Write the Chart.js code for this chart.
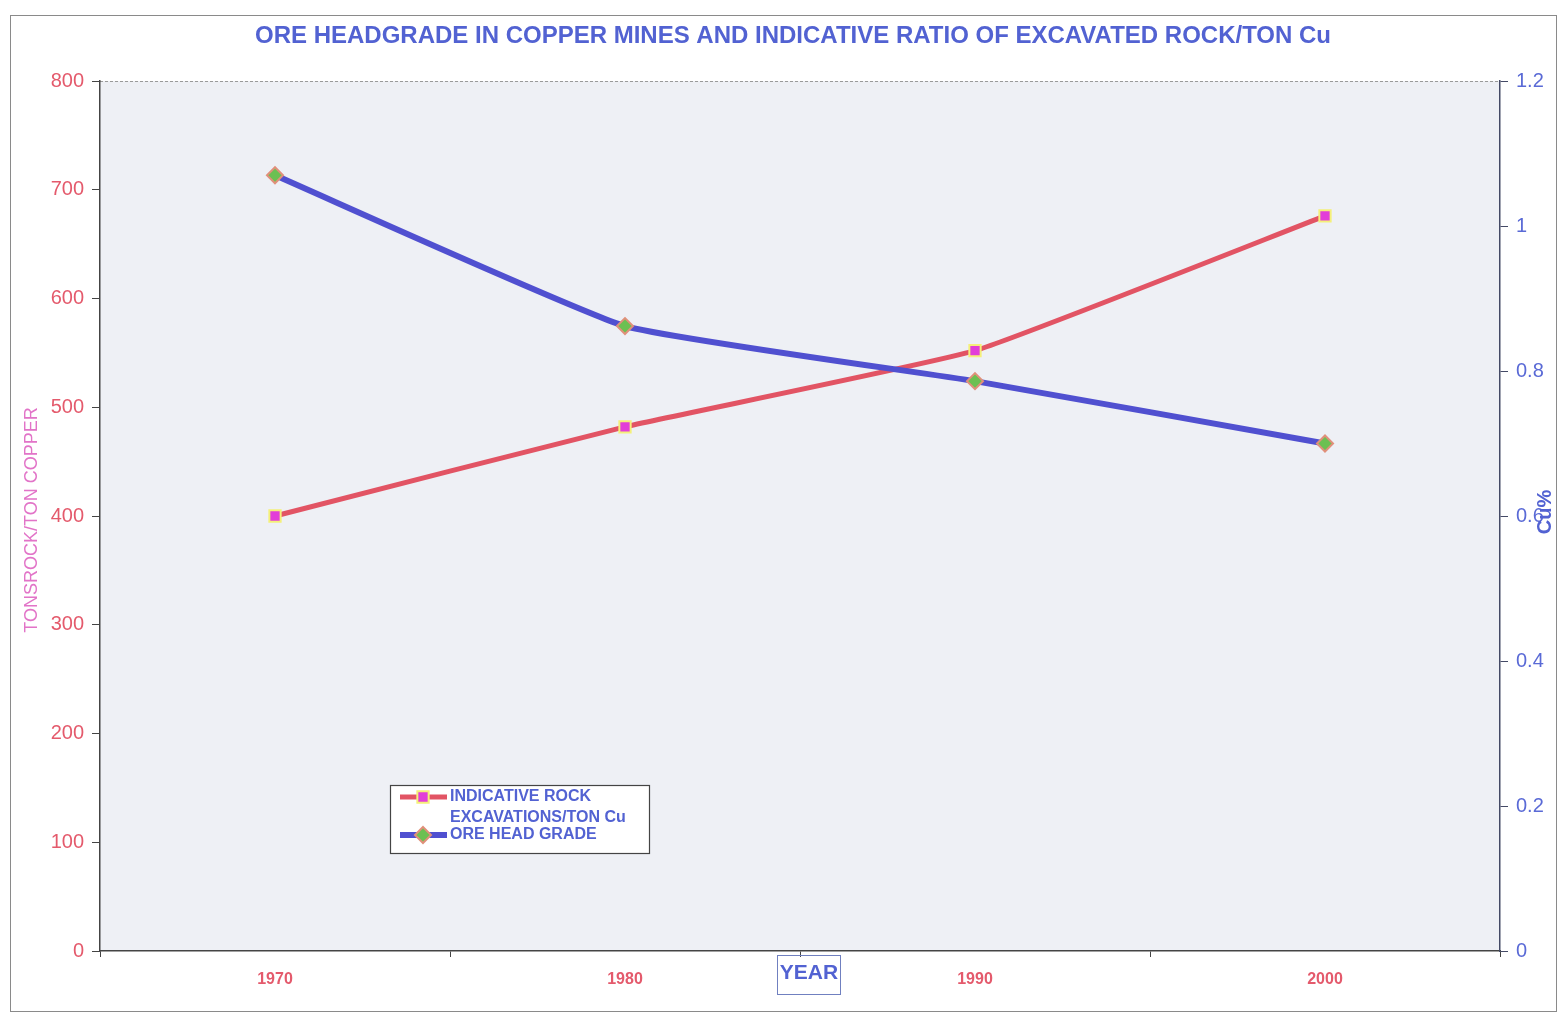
<!DOCTYPE html>
<html>
<head>
<meta charset="utf-8">
<title>Ore headgrade in copper mines</title>
<script src="https://cdn.jsdelivr.net/npm/chart.js@4"></script>
<style>
  html, body { margin: 0; padding: 0; background: #ffffff; }
  canvas { display: block; }
</style>
</head>
<body>
<canvas id="chart" width="1566" height="1016"></canvas>
<script>
// Years on the category axis
const years = ['1970', '1980', '1990', '2000'];
// Tons of rock excavated per ton of copper (left axis)
const rockPerTonCu = [400, 482, 552, 676];
// Ore head grade, Cu % (right axis)
const oreHeadGrade = [1.07, 0.862, 0.786, 0.70];

const chartTitle = 'ORE HEADGRADE IN COPPER MINES AND INDICATIVE RATIO OF EXCAVATED ROCK/TON Cu';
const leftTitle = 'TONSROCK/TON COPPER';
const rightTitle = 'Cu%';
const xTitle = 'YEAR';
const seriesLabels = [['INDICATIVE ROCK', 'EXCAVATIONS/TON Cu'], ['ORE HEAD GRADE']];

const FONT = '"Liberation Sans", Arial, sans-serif';
const BLUE_TEXT = '#5262d2';
const RED_TEXT = '#e45a6c';

// Page frame, plot background, title, axis titles and legend box
const decorations = {
  id: 'decorations',
  beforeDraw(chart) {
    const { ctx, chartArea: a } = chart;
    ctx.save();
    ctx.fillStyle = '#ffffff';
    ctx.fillRect(0, 0, chart.width, chart.height);
    ctx.strokeStyle = '#8a8a8a';
    ctx.lineWidth = 1;
    ctx.strokeRect(10.5, 15.5, 1546, 996);
    ctx.fillStyle = '#eef0f5';
    ctx.fillRect(a.left, a.top, a.right - a.left, a.bottom - a.top);
    ctx.setLineDash([3, 2]);
    ctx.strokeStyle = '#9a9a9a';
    ctx.beginPath();
    ctx.moveTo(a.left, a.top + 0.5);
    ctx.lineTo(a.right, a.top + 0.5);
    ctx.stroke();
    ctx.restore();
  },
  afterDraw(chart) {
    const { ctx } = chart;
    ctx.save();
    // main title
    ctx.fillStyle = BLUE_TEXT;
    ctx.font = 'bold 24px ' + FONT;
    ctx.textAlign = 'center';
    ctx.textBaseline = 'middle';
    ctx.fillText(chartTitle, 793, 36);

    // left axis title
    ctx.save();
    ctx.translate(32, 520);
    ctx.rotate(-Math.PI / 2);
    ctx.fillStyle = '#e274c8';
    ctx.font = '18px ' + FONT;
    ctx.fillText(leftTitle, 0, 0);
    ctx.restore();

    // right axis title
    ctx.save();
    ctx.translate(1545, 512);
    ctx.rotate(-Math.PI / 2);
    ctx.fillStyle = BLUE_TEXT;
    ctx.font = 'bold 20px ' + FONT;
    ctx.fillText(rightTitle, 0, 0);
    ctx.restore();

    // x axis title in a box
    ctx.font = 'bold 21px ' + FONT;
    ctx.fillStyle = BLUE_TEXT;
    ctx.fillText(xTitle, 809, 973);
    ctx.strokeStyle = '#7080c0';
    ctx.lineWidth = 1;
    ctx.strokeRect(777.5, 955.5, 63, 39);

    // legend
    const lx = 390, ly = 785, lw = 259, lh = 68;
    ctx.fillStyle = '#ffffff';
    ctx.fillRect(lx, ly, lw, lh);
    ctx.strokeStyle = '#444444';
    ctx.lineWidth = 1.2;
    ctx.strokeRect(lx + 0.5, ly + 0.5, lw, lh);
    const rows = [ly + 12, ly + 50];
    ctx.textAlign = 'left';
    ctx.font = 'bold 16px ' + FONT;
    chart.data.datasets.forEach((ds, i) => {
      const y = rows[i];
      ctx.strokeStyle = ds.borderColor;
      ctx.lineWidth = ds.borderWidth;
      ctx.beginPath();
      ctx.moveTo(lx + 10, y);
      ctx.lineTo(lx + 57, y);
      ctx.stroke();
      const cx = lx + 33;
      ctx.fillStyle = ds.pointBackgroundColor;
      ctx.strokeStyle = ds.pointBorderColor;
      ctx.lineWidth = ds.pointBorderWidth;
      ctx.beginPath();
      if (ds.pointStyle === 'rectRot') {
        const r = ds.pointRadius;
        ctx.moveTo(cx, y - r); ctx.lineTo(cx + r, y); ctx.lineTo(cx, y + r); ctx.lineTo(cx - r, y); ctx.closePath();
      } else {
        const r = ds.pointRadius * Math.SQRT1_2;
        ctx.rect(cx - r, y - r, 2 * r, 2 * r);
      }
      ctx.fill();
      ctx.stroke();
      ctx.fillStyle = BLUE_TEXT;
      seriesLabels[i].forEach((t, k) => ctx.fillText(t, lx + 60, y + k * 21));
    });
    ctx.restore();
  }
};

new Chart(document.getElementById('chart'), {
  type: 'line',
  data: {
    labels: years,
    datasets: [
      {
        label: seriesLabels[0].join(' '),
        data: rockPerTonCu,
        yAxisID: 'y',
        borderColor: '#e25464',
        borderWidth: 5,
        tension: 0.12,
        pointStyle: 'rect',
        pointRadius: 8,
        pointBackgroundColor: '#e23ed8',
        pointBorderColor: '#f4f07a',
        pointBorderWidth: 2,
        order: 2
      },
      {
        label: seriesLabels[1].join(' '),
        data: oreHeadGrade,
        yAxisID: 'y1',
        borderColor: '#5050d0',
        borderWidth: 6,
        tension: 0.12,
        pointStyle: 'rectRot',
        pointRadius: 8,
        pointBackgroundColor: '#6cc052',
        pointBorderColor: '#e0907a',
        pointBorderWidth: 2,
        order: 1
      }
    ]
  },
  options: {
    responsive: false,
    animation: false,
    devicePixelRatio: 1,
    layout: { padding: { top: 81, left: 0, right: 0, bottom: 0 } },
    plugins: {
      legend: { display: false },
      title: { display: false },
      tooltip: { enabled: false }
    },
    scales: {
      x: {
        type: 'category',
        offset: true,
        grid: { offset: true, drawOnChartArea: false, tickLength: 6, color: '#444444' },
        border: { color: '#444444', width: 1.5 },
        ticks: { color: RED_TEXT, font: { family: FONT, size: 16, weight: 'bold' }, padding: 13 },
        afterFit: s => { s.height = 65; }
      },
      y: {
        position: 'left',
        min: 0,
        max: 800,
        ticks: { stepSize: 100, color: RED_TEXT, font: { family: FONT, size: 20 }, padding: 8 },
        grid: { drawOnChartArea: false, tickLength: 8, color: '#444444' },
        border: { color: '#444444', width: 1.5 },
        afterFit: s => { s.width = 100; }
      },
      y1: {
        position: 'right',
        min: 0,
        max: 1.2,
        ticks: {
          stepSize: 0.2,
          color: '#5a6ad6',
          font: { family: FONT, size: 20 },
          padding: 8,
          callback: v => String(+v.toFixed(1))
        },
        grid: { drawOnChartArea: false, tickLength: 8, color: '#444a66' },
        border: { color: '#444a66', width: 1.5 },
        afterFit: s => { s.width = 66; }
      }
    }
  },
  plugins: [decorations]
});
</script>
</body>
</html>
